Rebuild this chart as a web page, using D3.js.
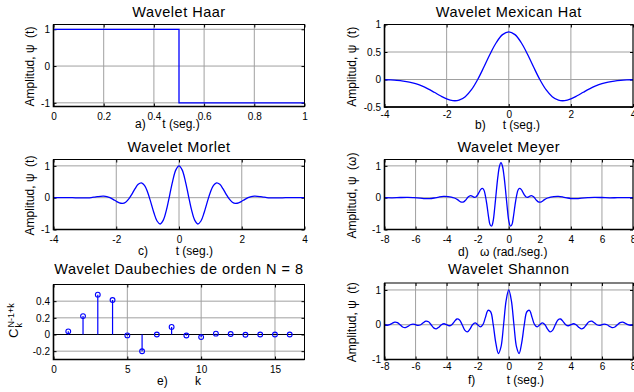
<!doctype html>
<html>
<head>
<meta charset="utf-8">
<script src="https://cdnjs.cloudflare.com/ajax/libs/d3/7.8.5/d3.min.js"></script>
<style>
  body { margin: 0; background: #fff; }
  svg { display: block; font-family: Arial, "Liberation Sans", sans-serif; }
  .grid line { stroke: #a0a0a0; stroke-width: 1; }
  .curve { fill: none; stroke: #0000ff; stroke-width: 1.3; }
  .title { font-size: 14.5px; letter-spacing: 0.5px; text-anchor: middle; }
  .lab { font-size: 12px; white-space: pre; }
</style>
</head>
<body>
<svg id="fig" width="634" height="392"></svg>
<script>
// a) Haar
var haarT = [0, 0.5, 0.5, 1];
var haarPsi = [1, 1, -1, -1];

// b) Mexican hat, sampled every 0.2 s
var mexT = d3.range(-4, 4.001, 0.2);
var mexPsi = [-0.0044,-0.0085,-0.0159,-0.0283,-0.0479,-0.0771,-0.1177,-0.1700,-0.2317,-0.2962,
  -0.3521,-0.3845,-0.3761,-0.3125,-0.1858,0,0.2267,0.4637,0.6725,0.8161,
  0.8673,
  0.8161,0.6725,0.4637,0.2267,0,-0.1858,-0.3125,-0.3761,-0.3845,-0.3521,
  -0.2962,-0.2317,-0.1700,-0.1177,-0.0771,-0.0479,-0.0283,-0.0159,-0.0085,-0.0044];

// c) Morlet, every 0.1 s
var morT = d3.range(-4, 4.001, 0.1);
var morPsi = [0.000,0.000,0.001,0.001,0.001,0.000,-0.001,-0.003,-0.006,-0.008,
  -0.008,-0.005,0.003,0.016,0.031,0.044,0.047,0.034,0.000,-0.052,
  -0.114,-0.164,-0.180,-0.142,-0.040,0.113,0.283,0.420,0.467,0.387,
  0.172,-0.141,-0.475,-0.733,-0.827,-0.707,-0.384,0.068,0.530,0.873,
  1,
  0.873,0.530,0.068,-0.384,-0.707,-0.827,-0.733,-0.475,-0.141,0.172,
  0.387,0.467,0.420,0.283,0.113,-0.040,-0.142,-0.180,-0.164,-0.114,
  -0.052,0.000,0.034,0.047,0.044,0.031,0.016,0.003,-0.005,-0.008,
  -0.008,-0.006,-0.003,-0.001,0.000,0.001,0.001,0.001,0.000,0.000];

// d) Meyer
var meyW = [-8,-7.5,-7,-6.5,-6.1,-5.7,-5.4,-5.1,-4.8,-4.5,-4.2,-3.9,-3.7,-3.5,-3.3,-3.2,-3.1,-3.0,-2.9,-2.8,
  -2.7,-2.6,-2.5,-2.4,-2.3,-2.2,-2.1,-2.0,-1.9,-1.8,-1.7,-1.6,-1.5,-1.4,-1.3,-1.2,-1.1,-1.0,-0.9,-0.8,
  -0.7,-0.6,-0.5,-0.4,-0.3,-0.2,-0.1,0,0.1,0.2,0.3,0.4,0.5,0.6,0.7,0.8,0.9,1.0,1.1,1.2,
  1.3,1.4,1.5,1.6,1.7,1.8,1.9,2.0,2.1,2.2,2.3,2.5,2.7,2.9,3.2,3.5,3.8,4.1,4.4,4.7,
  5.1,5.5,6.0,6.5,7.0,7.5,8.0];
var meyPsi = [0,-0.005,0.005,0.01,0,-0.015,-0.03,-0.03,-0.01,0.02,0.04,0.035,0.02,-0.01,-0.06,-0.10,-0.13,-0.14,-0.13,-0.09,
  -0.03,0.03,0.06,0.06,0.03,0.01,0.03,0.09,0.18,0.26,0.29,0.24,0.05,-0.25,-0.6,-0.85,-0.89,-0.72,-0.3,0.2,
  0.66,0.98,1.1,0.98,0.66,0.2,-0.3,-0.72,-0.89,-0.85,-0.6,-0.25,0.05,0.24,0.29,0.26,0.18,0.09,0.03,0.01,
  0.03,0.06,0.06,0.03,-0.03,-0.09,-0.13,-0.14,-0.13,-0.10,-0.06,-0.01,0.02,0.035,0.04,0.02,-0.01,-0.03,-0.03,-0.015,
  0,0.01,0.005,-0.005,0,0,0];

// e) Daubechies N = 8 coefficients
var dbK = d3.range(1, 17);
var dbC = [0.038,0.221,0.478,0.414,-0.011,-0.201,0.000,0.091,-0.012,-0.031,0.010,0.006,-0.003,0.000,0.000,0.000];

// f) Shannon, every 1/6 s
var shanT = d3.range(-48, 49).map(function(k) { return k / 6; });
var shanPsi = [0,-0.015,0,0.042,0.075,0.061,0,-0.064,-0.083,-0.049,0,0.019,0,-0.020,0,0.058,0.103,0.084,0,-0.090,
  -0.118,-0.071,0,0.028,0,-0.030,0,0.091,0.165,0.137,0,-0.153,-0.207,-0.127,0,0.054,0,-0.064,0,0.212,
  0.413,0.373,0,-0.522,-0.827,-0.637,0,0.699,
  1,
  0.699,0,-0.637,-0.827,-0.522,0,0.373,0.413,0.212,0,-0.064,0,0.054,0,-0.127,-0.207,-0.153,0,0.137,0.165,
  0.091,0,-0.030,0,0.028,0,-0.071,-0.118,-0.090,0,0.084,0.103,0.058,0,-0.020,0,0.019,0,-0.049,-0.083,
  -0.064,0,0.061,0.075,0.042,0,-0.015,0];

var svg = d3.select("#fig");
var fmt = function(d) { return String(d); };

function panel(p) {
  var x = d3.scaleLinear().domain(p.xd).range([p.l, p.r]);
  var y = d3.scaleLinear().domain(p.yd).range([p.b, p.t]);
  var g = svg.append("g");

  var grid = g.append("g").attr("class", "grid");
  grid.selectAll(".gx").data(p.xt).join("line").attr("class", "gx")
    .attr("x1", d => x(d)).attr("x2", d => x(d)).attr("y1", p.t).attr("y2", p.b);
  grid.selectAll(".gy").data(p.yt).join("line").attr("class", "gy")
    .attr("y1", d => y(d)).attr("y2", d => y(d)).attr("x1", p.l).attr("x2", p.r);

  g.append("g").attr("transform", "translate(0," + p.b + ")")
    .call(d3.axisBottom(x).tickValues(p.xt).tickFormat(fmt).tickSizeInner(-3).tickSizeOuter(0).tickPadding(p.xpad));
  g.append("g").attr("transform", "translate(0," + p.t + ")")
    .call(d3.axisTop(x).tickValues(p.xt).tickFormat("").tickSizeInner(-3).tickSizeOuter(0));
  g.append("g").attr("transform", "translate(" + p.l + ",0)")
    .call(d3.axisLeft(y).tickValues(p.yt).tickFormat(fmt).tickSizeInner(-3).tickSizeOuter(0).tickPadding(3.5));
  g.append("g").attr("transform", "translate(" + p.r + ",0)")
    .call(d3.axisRight(y).tickValues(p.yt).tickFormat("").tickSizeInner(-3).tickSizeOuter(0));
  g.selectAll(".domain").remove();
  g.selectAll(".tick line").attr("stroke", "#000");
  g.selectAll(".tick text").attr("font-size", 10).attr("font-family", "Arial, 'Liberation Sans', sans-serif").attr("fill", "#000");

  if (p.stem) {
    g.append("line").attr("x1", p.l).attr("x2", p.r).attr("y1", y(0)).attr("y2", y(0))
      .attr("stroke", "#000").attr("stroke-width", 1);
    g.selectAll(".stem").data(p.xs).join("line").attr("class", "stem")
      .attr("x1", d => x(d)).attr("x2", d => x(d))
      .attr("y1", y(0)).attr("y2", (d, i) => y(p.ys[i]))
      .attr("stroke", "#0000ff").attr("stroke-width", 1.2);
    g.selectAll(".mk").data(p.xs).join("circle").attr("class", "mk")
      .attr("cx", d => x(d)).attr("cy", (d, i) => y(p.ys[i])).attr("r", 2.4)
      .attr("fill", "none").attr("stroke", "#0000ff").attr("stroke-width", 1.1);
  } else {
    var line = d3.line().x(d => x(d[0])).y(d => y(d[1]))
      .curve(p.smooth ? d3.curveCatmullRom.alpha(0.5) : d3.curveLinear);
    g.append("path").attr("class", "curve").attr("d", line(d3.zip(p.xs, p.ys)));
  }

  // box
  g.append("rect").attr("x", p.l).attr("y", p.t).attr("width", p.r - p.l).attr("height", p.b - p.t)
    .attr("fill", "none").attr("stroke", "#000").attr("stroke-width", 1);
  g.append("path").attr("d", "M" + p.l + "," + p.t + "V" + p.b + "H" + p.r)
    .attr("fill", "none").attr("stroke", "#000").attr("stroke-width", 1.6);

  g.append("text").attr("class", "title").attr("x", (p.l + p.r) / 2).attr("y", p.ty).text(p.title);
  g.append("text").attr("class", "lab").attr("x", p.px).attr("y", p.ly).text(p.pre);
  g.append("text").attr("class", "lab").attr("x", p.mx).attr("y", p.ly).text(p.xlab);

  if (p.ylab) {
    g.append("text").attr("class", "lab").attr("text-anchor", "middle")
      .attr("transform", "translate(" + p.yx + "," + ((p.t + p.b) / 2 + 1) + ") rotate(-90)")
      .text(p.ylab);
  }
  return g;
}

panel({ l: 53.5, r: 304.5, t: 24.5, b: 106.5, xd: [0, 1], yd: [-1.1, 1.13],
  xt: [0, 0.2, 0.4, 0.6, 0.8, 1], yt: [-1, 0, 1], xpad: 6.4,
  xs: haarT, ys: haarPsi, smooth: false,
  title: "Wavelet Haar", ty: 16.7, pre: "a)", px: 135, mx: 162.3, xlab: "t (seg.)", ly: 128,
  ylab: "Amplitud, \u03c8  (t)", yx: 33.5 });

panel({ l: 384.5, r: 633, t: 24.5, b: 107, xd: [-4, 4], yd: [-0.5, 1],
  xt: [-4, -2, 0, 2, 4], yt: [-0.5, 0, 0.5, 1], xpad: 3.4,
  xs: mexT, ys: mexPsi, smooth: true,
  title: "Wavelet Mexican Hat", ty: 16.7, pre: "b)", px: 475, mx: 502.7, xlab: "t (seg.)", ly: 129,
  ylab: "Amplitud, \u03c8  (t)", yx: 356 });

panel({ l: 53.5, r: 304.5, t: 159.5, b: 229.5, xd: [-4, 4], yd: [-1, 1.2],
  xt: [-4, -2, 0, 2, 4], yt: [-1, 0, 1], xpad: 6.2,
  xs: morT, ys: morPsi, smooth: true,
  title: "Wavelet Morlet", ty: 151.5, pre: "c)", px: 138, mx: 175.7, xlab: "t (seg.)", ly: 255,
  ylab: "Amplitud, \u03c8  (t)", yx: 33.5 });

panel({ l: 384.5, r: 633, t: 159.5, b: 229.5, xd: [-8, 8], yd: [-1, 1.2],
  xt: [-8, -6, -4, -2, 0, 2, 4, 6, 8], yt: [-1, 0, 1], xpad: 6.2,
  xs: meyW, ys: meyPsi, smooth: true,
  title: "Wavelet Meyer", ty: 151.5, pre: "d)", px: 458, mx: 480, xlab: "\u03c9 (rad./seg.)", ly: 255.5,
  ylab: "Amplitud, \u03c8  (\u03c9)", yx: 356 });

var pe = panel({ l: 53.5, r: 304.5, t: 284.5, b: 359.5, xd: [0, 17], yd: [-0.3, 0.6],
  xt: [0, 5, 10, 15], yt: [-0.2, 0, 0.2, 0.4], xpad: 5.9,
  xs: dbK, ys: dbC, stem: true,
  title: "Wavelet Daubechies de orden N = 8", ty: 274.3, pre: "e)", px: 157, mx: 195, xlab: "k", ly: 384.5,
  ylab: null });

// C_k^{N-1+k} label
var cl = pe.append("g").attr("transform", "translate(18,338) rotate(-90)");
cl.append("text").attr("x", 0).attr("y", 0).attr("font-size", 13).text("C");
cl.append("text").attr("x", 10.5).attr("y", 3.5).attr("font-size", 9).text("k");
cl.append("text").attr("x", 10.5).attr("y", -4.5).attr("font-size", 9).text("N-1+k");

panel({ l: 384.5, r: 633, t: 283, b: 359.5, xd: [-8, 8], yd: [-1, 1.2],
  xt: [-8, -6, -4, -2, 0, 2, 4, 6, 8], yt: [-1, 0, 1], xpad: 3.6,
  xs: shanT, ys: shanPsi, smooth: true,
  title: "Wavelet Shannon", ty: 274.3, pre: "f)", px: 468, mx: 506.7, xlab: "t (seg.)", ly: 384,
  ylab: "Amplitud, \u03c8  (t)", yx: 356 });
</script>
</body>
</html>
